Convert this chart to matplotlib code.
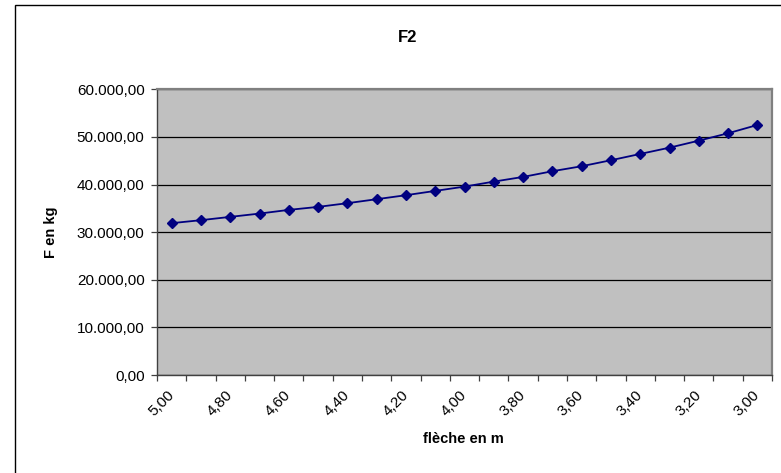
import matplotlib
matplotlib.use("Agg")
import matplotlib.pyplot as plt
from matplotlib.patches import Rectangle
from matplotlib.ticker import FuncFormatter, FixedLocator
import numpy as np

plt.rcParams['font.family'] = ['Liberation Sans', 'DejaVu Sans']

# Data
fleche = [5.00, 4.90, 4.80, 4.70, 4.60, 4.50, 4.40, 4.30, 4.20, 4.10, 4.00,
          3.90, 3.80, 3.70, 3.60, 3.50, 3.40, 3.30, 3.20, 3.10, 3.00]
force = [31885, 32515, 33207, 33900, 34676, 35305, 36081, 36920, 37760, 38662,
         39564, 40613, 41598, 42794, 43843, 45102, 46424, 47745, 49214, 50766, 52507]
y_ticks = [0, 10000, 20000, 30000, 40000, 50000, 60000]
title = "F2"
xlabel = "flèche en m"
ylabel = "F en kg"

W, H = 781, 473
fig = plt.figure(figsize=(W / 100, H / 100), dpi=100)
fig.patch.set_facecolor('white')

# plot area in pixels
L, R, T, B = 157, 772, 89.3, 375
ax = fig.add_axes([L / W, 1 - B / H, (R - L) / W, (B - T) / H])
ax.set_facecolor('#C0C0C0')

n = len(fleche)
xpos = np.arange(n)
ax.plot(xpos, force, color='#000080', lw=1.3, marker='D', ms=5.6,
        mfc='#000080', mec='#000080', zorder=3, clip_on=False)

ax.set_xlim(-0.5, n - 0.5)
ax.set_ylim(y_ticks[0], y_ticks[-1])

# y axis
ax.yaxis.set_major_locator(FixedLocator(y_ticks))

def fmt(v, pos=None):
    s = f"{v:,.2f}"
    return s.replace(",", "X").replace(".", ",").replace("X", ".")

ax.yaxis.set_major_formatter(FuncFormatter(fmt))
ax.grid(axis='y', color='black', lw=0.9, zorder=1)
ax.set_axisbelow(True)
ax.tick_params(axis='y', direction='out', length=4, width=0.9, color='#404040',
               labelsize=11, pad=5)

# x axis: ticks at category boundaries, labels every other category
ax.xaxis.set_major_locator(FixedLocator(np.arange(n + 1) - 0.5))
ax.xaxis.set_major_formatter(FuncFormatter(lambda v, p: ""))
lab_idx = list(range(0, n, 2))
ax.xaxis.set_minor_locator(FixedLocator(lab_idx))
ax.set_xticklabels([f"{fleche[i]:.2f}".replace(".", ",") for i in lab_idx], minor=True)
ax.tick_params(axis='x', which='major', direction='out', length=4, width=0.9,
               color='#404040')
ax.tick_params(axis='x', which='minor', length=0, labelsize=11, pad=13)
for t in ax.get_xticklabels(minor=True):
    t.set_rotation(45)
    t.set_ha('right')
    t.set_va('center')
    t.set_rotation_mode('anchor')

for s in ['top', 'right']:
    ax.spines[s].set_color('#808080')
    ax.spines[s].set_linewidth(1.6)
for s in ['left', 'bottom']:
    ax.spines[s].set_color('#404040')
    ax.spines[s].set_linewidth(1.0)

# texts
fig.text(408 / W, 1 - 38 / H, title, ha='center', va='center',
         fontsize=12, fontweight='bold')
fig.text(463 / W, 1 - 439 / H, xlabel, ha='center', va='center',
         fontsize=10.5, fontweight='bold')
fig.text(51 / W, 1 - 232 / H, ylabel, ha='center', va='center',
         rotation=90, fontsize=10.5, fontweight='bold')

# outer chart border
fig.add_artist(Rectangle((15 / W, -0.2), 1.5, 1 - 5 / H + 0.2,
                         transform=fig.transFigure, fill=False,
                         ec='black', lw=1.0))

fig.savefig("out.png", dpi=100)
